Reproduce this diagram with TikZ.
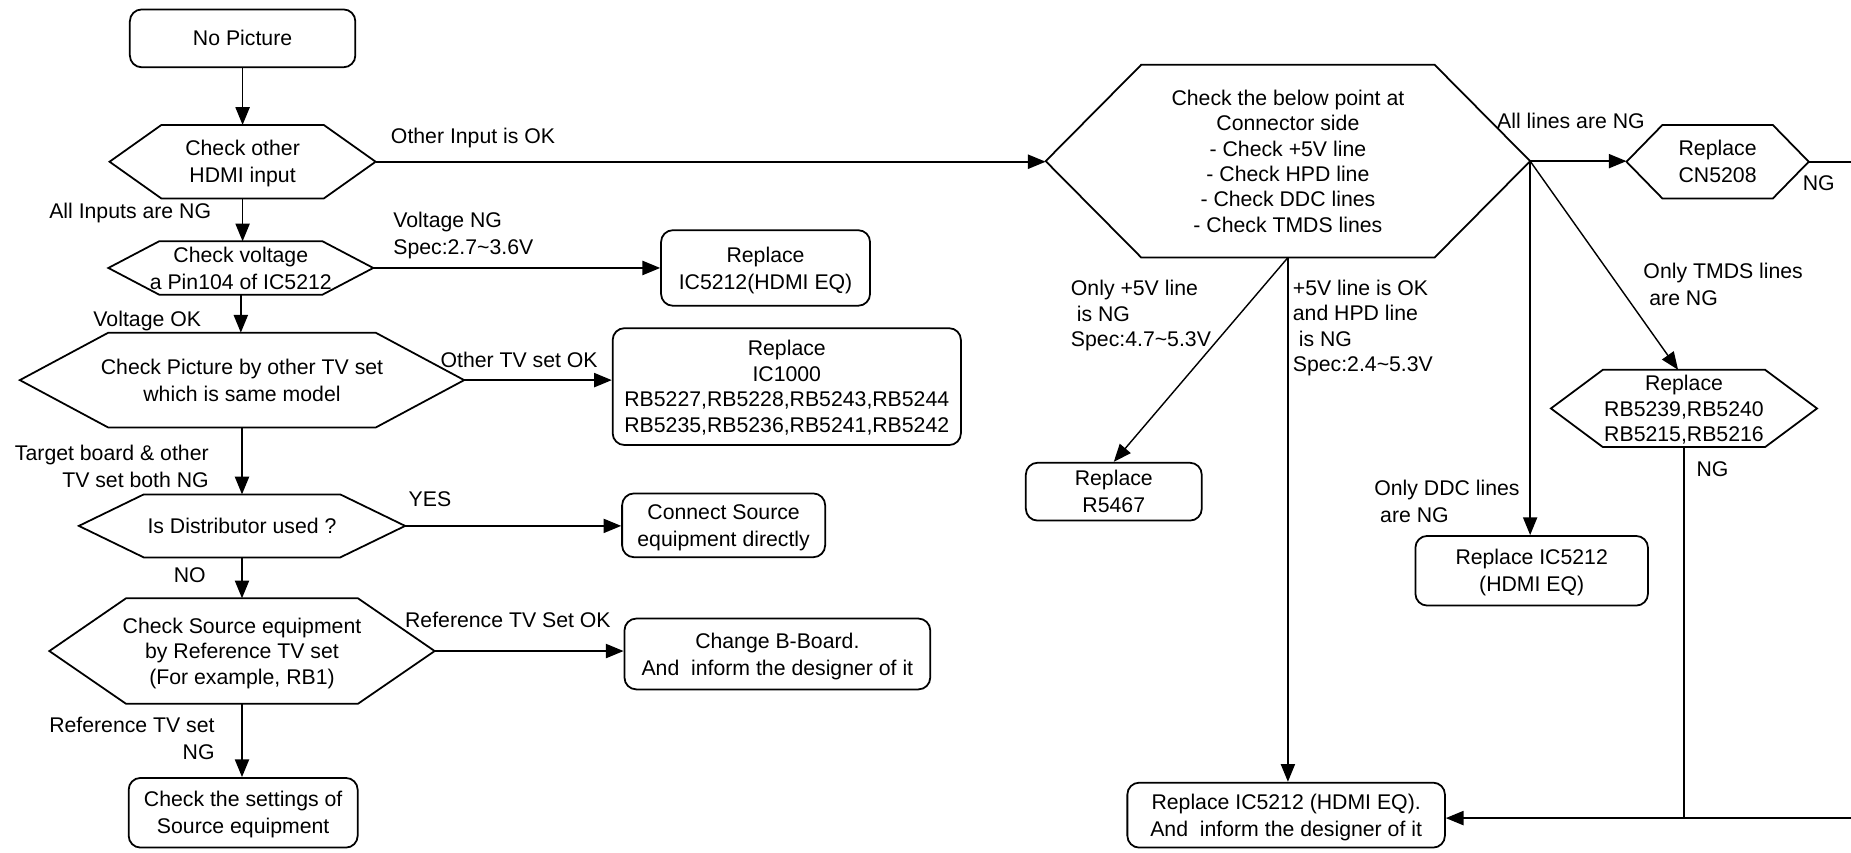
\documentclass[tikz,border=0pt]{standalone}
\usepackage{fontspec}
\setmainfont{Liberation Sans}
\usetikzlibrary{arrows.meta}
\newcommand\mys{\rule[-4.5pt]{0pt}{21.9pt}}
\newcommand\lsp{\hspace*{5pt}}
\newcommand\hexdraw[2]{\draw[boxline] (#1.west) -- ([xshift=#2]#1.north west) -- ([xshift=-#2]#1.north east) -- (#1.east) -- ([xshift=-#2]#1.south east) -- ([xshift=#2]#1.south west) -- cycle;}
\tikzset{
  every node/.style={font=\fontsize{18}{21.6}\selectfont, inner sep=0pt},
  boxline/.style={line width=1.5pt},
  rbox/.style={draw, boxline, rounded corners=10pt, align=center},
  hexn/.style={align=center},
  lbl/.style={align=left, anchor=west},
  lblr/.style={align=right, anchor=east},
  arr/.style={line width=1.4pt, -{Triangle[length=15pt,width=12pt]}},
  arrthin/.style={line width=1.2pt, -{Triangle[length=15pt,width=12pt]}},
  ln/.style={line width=1.2pt},
}
\begin{document}
\begin{tikzpicture}[x=1pt,y=-1pt]
\useasboundingbox (0,0) rectangle (1568,722);
\fill[white] (0,0) rectangle (1568,722);
\clip (0,0) rectangle (1568,722);

% ---------- left column ----------
\node[rbox, minimum width=191pt, minimum height=49pt] (np) at (205.5,32.5) {\mys No Picture\mys};
\node[hexn, minimum width=225pt, minimum height=62pt] (h1) at (205.5,137) {\mys Check other\\HDMI input\mys};
\hexdraw{h1}{44}
\node[hexn, minimum width=224pt, minimum height=44pt] (h2) at (204,227) {\mys Check voltage\\a Pin104 of IC5212\mys};
\hexdraw{h2}{43}
\node[hexn, minimum width=376pt, minimum height=80pt] (h3) at (205,322) {\mys Check Picture by other TV set\\which is same model\mys};
\hexdraw{h3}{75}
\node[hexn, minimum width=276pt, minimum height=53pt] (h4) at (205,445.5) {\mys Is Distributor used ?\mys};
\hexdraw{h4}{55}
\node[hexn, minimum width=326pt, minimum height=89pt] (h5) at (205,551.5) {\mys Check Source equipment\\by Reference TV set\\(For example, RB1)\mys};
\hexdraw{h5}{65}
\node[rbox, minimum width=194pt, minimum height=59pt] (sb) at (206,688.5) {\mys Check the settings of\\Source equipment\mys};

% ---------- middle boxes ----------
\node[rbox, minimum width=177pt, minimum height=64pt] (ica) at (648.5,227) {\mys Replace\\IC5212(HDMI EQ)\mys};
\node[rbox, minimum width=295pt, minimum height=99pt] (ic1000) at (666.5,327.5) {\mys Replace\\IC1000\\RB5227,RB5228,RB5243,RB5244\\RB5235,RB5236,RB5241,RB5242\mys};
\node[rbox, minimum width=172pt, minimum height=54pt] (conn) at (613,445) {\mys Connect Source\\equipment directly\mys};
\node[rbox, minimum width=259pt, minimum height=60pt] (chg) at (658.5,554) {\mys Change B-Board.\\And\ \ inform the designer of it\mys};

% ---------- right part ----------
\node[hexn, minimum width=410pt, minimum height=163pt] (big) at (1091,136.5) {\mys Check the below point at\\Connector side\\- Check +5V line\\- Check HPD line\\- Check DDC lines\\- Check TMDS lines\mys};
\hexdraw{big}{81}
\node[hexn, minimum width=154pt, minimum height=62pt] (cn) at (1455,137) {\mys Replace\\CN5208\mys};
\hexdraw{cn}{30.5}
\node[rbox, minimum width=149pt, minimum height=49pt] (r5467) at (943.5,416.5) {\mys Replace\\R5467\mys};
\node[hexn, minimum width=225pt, minimum height=63pt] (tmds) at (1426.5,346) {\mys Replace\\RB5239,RB5240\\RB5215,RB5216\mys};
\hexdraw{tmds}{44}
\node[rbox, minimum width=197pt, minimum height=59pt] (icb) at (1297.5,483.5) {\mys Replace IC5212\\(HDMI EQ)\mys};
\node[rbox, minimum width=269pt, minimum height=55pt] (fin) at (1089.5,690.5) {\mys Replace IC5212 (HDMI EQ).\\And\ \ inform the designer of it\mys};

\coordinate (R1) at (1590,137);
\coordinate (R2) at (1590,693);

% ---------- connectors: left ----------
\draw[arr] (np.south) -- (h1.north);
\draw[arr] (h1.east) -- (h1.east -| big.west);
\draw[arr] (h1.south) -- (h1.south |- h2.north);
\draw[arr] (h2.east) -- (h2.east -| ica.west);
\draw[arr] (h2.south) -- (h2.south |- h3.north);
\draw[arr] (h3.east) -- (h3.east -| ic1000.west);
\draw[arr] (h3.south) -- (h3.south |- h4.north);
\draw[arr] (h4.east) -- (h4.east -| conn.west);
\draw[arr] (h4.south) -- (h4.south |- h5.north);
\draw[arr] (h5.east) -- (h5.east -| chg.west);
\draw[arr] (h5.south) -- (h5.south |- sb.north);

% ---------- connectors: right ----------
\draw[arr] (big.east) -- (big.east -| cn.west);
\draw[arr] (cn.east) -- (cn.east -| R1) -- (R2) -- (R2 -| fin.east);
\draw[arrthin] (big.east) -- ([xshift=-5pt]tmds.north);
\draw[arrthin] (big.east) -- (big.east |- icb.north);
\draw[arrthin] (big.south) -- (r5467.north);
\draw[arrthin] (big.south) -- (big.south |- fin.north);
\draw[ln] (tmds.south) -- (tmds.south |- R2);

% ---------- labels ----------
\node[lbl] (l1) at (331,115) {\mys Other Input is OK\mys};
\node[lblr] (l2) at (179,179) {\mys All Inputs are NG\mys};
\node[lbl] (l3) at (333,197.5) {\mys Voltage NG\\Spec:2.7\textasciitilde3.6V\mys};
\node[lbl] (l4) at (79,270) {\mys Voltage OK\mys};
\node[lbl] (l5) at (373,305) {\mys Other TV set OK\mys};
\node[lblr] (l6) at (177,395) {\mys Target board \& other\\TV set both NG\mys};
\node[lbl] (l7) at (346,423) {\mys YES\mys};
\node[lbl] (l8) at (147,487) {\mys NO\mys};
\node[lbl] (l9) at (343,525) {\mys Reference TV Set OK\mys};
\node[lblr] (l10) at (182,625.5) {\mys Reference TV set\\NG\mys};
\node[lbl] (l11) at (1268,102) {\mys All lines are NG\mys};
\node[lbl] (l12) at (1527,155) {\mys NG\mys};
\node[lbl] (l13) at (1392,241) {\mys Only TMDS lines\\\lsp are NG\mys};
\node[lbl] (l14) at (1164,424.5) {\mys Only DDC lines\\\lsp are NG\mys};
\node[lbl] (l15) at (907,265.5) {\mys Only +5V line\\\lsp is NG\\Spec:4.7\textasciitilde5.3V\mys};
\node[lbl] (l16) at (1095,276) {\mys +5V line is OK\\and HPD line\\\lsp is NG\\Spec:2.4\textasciitilde5.3V\mys};
\node[lbl] (l17) at (1437,397) {\mys NG\mys};
\end{tikzpicture}
\end{document}
